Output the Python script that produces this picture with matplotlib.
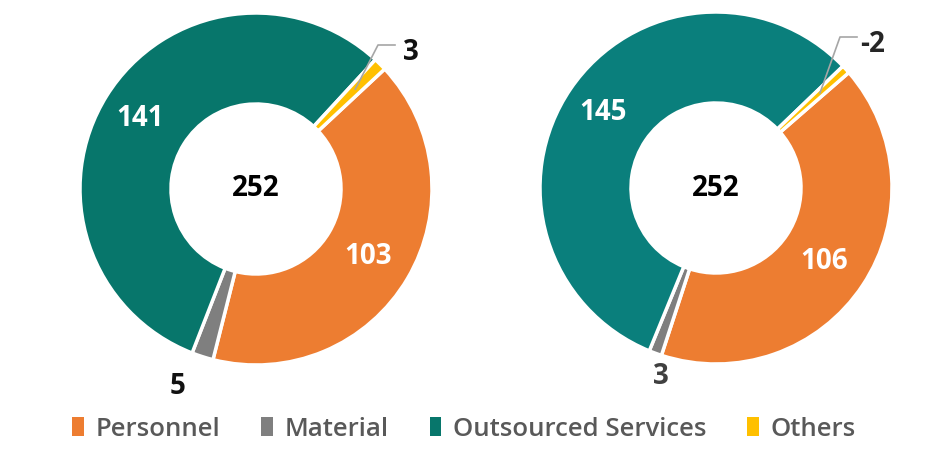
import numpy as np
import matplotlib.pyplot as plt
from matplotlib.patches import Patch

plt.rcParams['font.family'] = ['Open Sans', 'DejaVu Sans']

categories = ['Personnel', 'Material', 'Outsourced Services', 'Others']
left_values = [103, 5, 141, 3]
right_values = [106, 3, 145, -2]
left_total = 252
right_total = 252

colors = ['#ED7D31', '#7F7F7F', '#07766B', '#FFC000']
teal_right = '#0A7F7C'

W, H = 947, 454
fig = plt.figure(figsize=(W / 100, H / 100), dpi=100)
ax = fig.add_axes([0, 0, 1, 1])

R_OUT = 176
R_IN = 85


def px(x, y):
    # picture coords (y down) -> axes coords (y up)
    return x, H - y


def donut(values, total, center, start, teal, big_pos, small_labels):
    cols = list(colors)
    cols[2] = teal
    wedges, _ = ax.pie(np.abs(values), colors=cols, startangle=start, counterclock=False,
                       center=px(*center), radius=R_OUT,
                       wedgeprops=dict(width=R_OUT - R_IN, edgecolor='white', linewidth=2.5))
    cx, cy = px(*center)
    r_mid = (R_OUT + R_IN) / 2 + 3
    for i in big_pos:
        w = wedges[i]
        a = np.radians((w.theta1 + w.theta2) / 2)
        ax.text(cx + r_mid * np.cos(a) - 3, cy + r_mid * np.sin(a), str(values[i]),
                color='white', fontsize=20, fontweight='bold', ha='center', va='center')
    for i, (lx, ly, col, line) in small_labels.items():
        tx, ty = px(lx, ly)
        ax.text(tx, ty, str(values[i]), color=col, fontsize=20, fontweight='bold',
                ha='center', va='center')
        if line:
            w = wedges[i]
            a = np.radians((w.theta1 + w.theta2) / 2)
            r = R_OUT * 0.8
            ax.plot([cx + r * np.cos(a), tx - 33, tx - 16], [cy + r * np.sin(a), ty + 8, ty + 8],
                    color='#A6A6A6', lw=1.2)
    ax.text(cx, cy, str(total), color='black', fontsize=20, fontweight='bold',
            ha='center', va='center')


donut(left_values, left_total, (256, 189), 43, colors[2], [0, 2],
      {3: (411, 53, '#111111', True), 1: (178, 386, '#111111', False)})
donut(right_values, right_total, (716, 188), 41, teal_right, [0, 2],
      {3: (873, 45, '#262626', True), 1: (661, 376, '#404040', False)})

ax.set_xlim(0, W)
ax.set_ylim(0, H)
ax.set_aspect('equal')
ax.axis('off')

handles = [Patch(facecolor=c, edgecolor='none') for c in [colors[0], colors[1], colors[2], colors[3]]]
fig.legend(handles, categories, loc='center', bbox_to_anchor=(0.49, 1 - 429 / H), ncol=4,
           frameon=False, handlelength=0.45, handleheight=0.75, handletextpad=0.45,
           columnspacing=1.6, labelcolor='#595959', prop={'weight': 'semibold', 'size': 18.5})

fig.savefig('out.png', dpi=100)
